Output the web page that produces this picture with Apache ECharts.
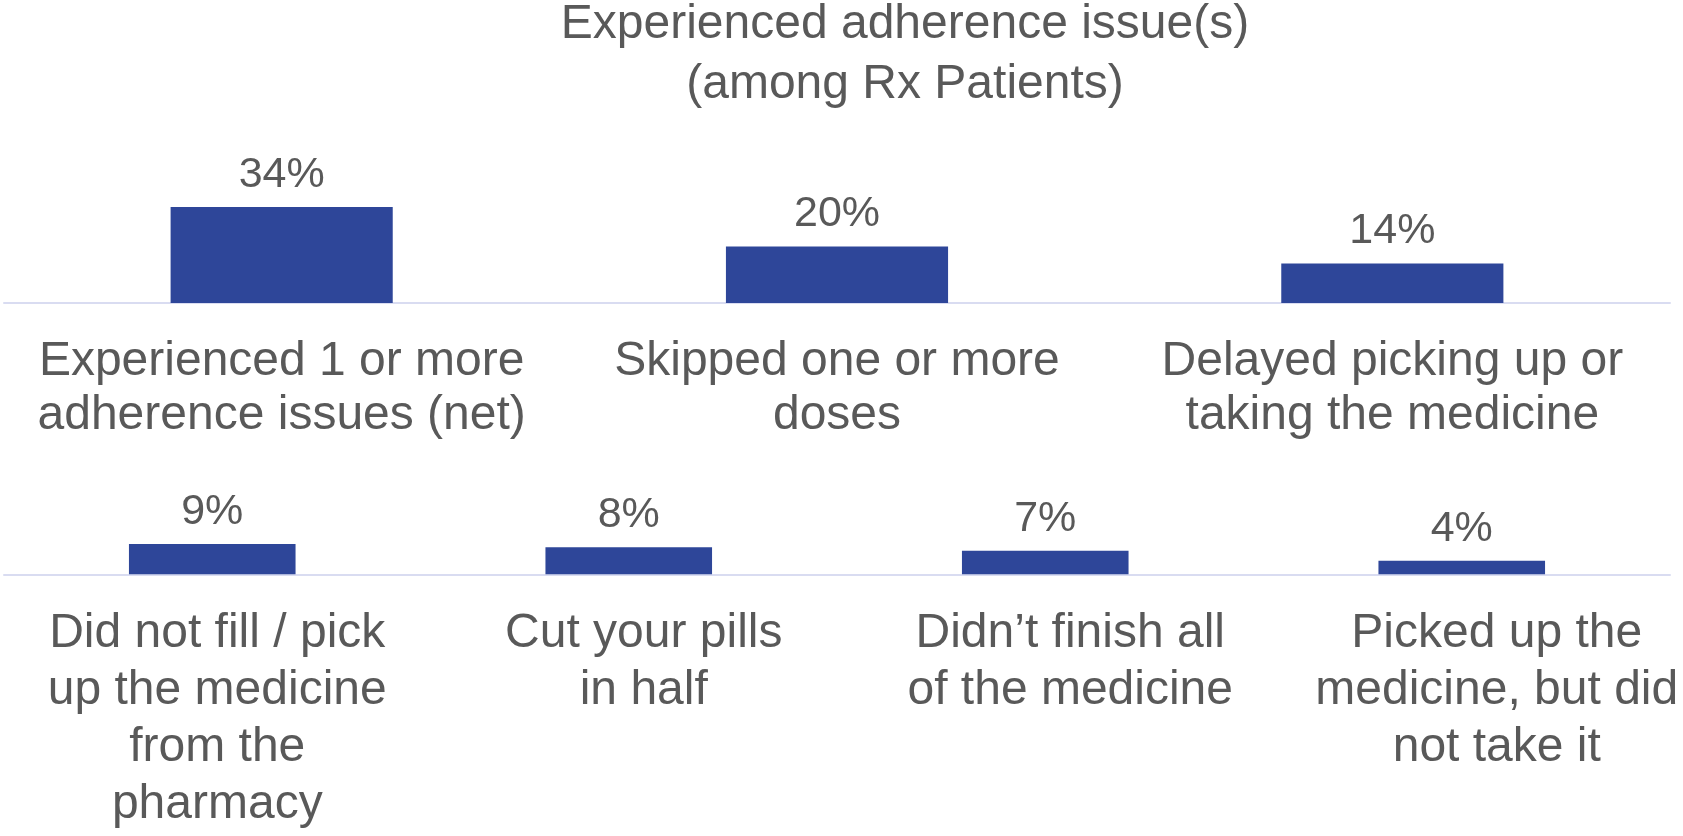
<!DOCTYPE html>
<html>
<head>
<meta charset="utf-8">
<title>Experienced adherence issue(s)</title>
<script src="https://cdn.jsdelivr.net/npm/echarts@6/dist/echarts.min.js"></script>
<style>
  html, body { margin: 0; padding: 0; background: #ffffff; }
  #chart { width: 1683px; height: 836px; }
</style>
</head>
<body>
<div id="chart"></div>
<script>
// Row 1: headline measures
const topCategories = [
  'Experienced 1 or more\nadherence issues (net)',
  'Skipped one or more\ndoses',
  'Delayed picking up or\ntaking the medicine'
];
const topValues = [34, 20, 14];

// Row 2: individual behaviours
const bottomCategories = [
  'Did not fill / pick\nup the medicine\nfrom the\npharmacy',
  'Cut your pills\nin half',
  'Didn\u2019t finish all\nof the medicine',
  'Picked up the\nmedicine, but did\nnot take it'
];
const bottomValues = [9, 8, 7, 4];

const titleLines = ['Experienced adherence issue(s)', '(among Rx Patients)'];

const FONT = "'Liberation Sans', Arial, Helvetica, sans-serif";
const TEXT = '#595959';
const BAR = '#2E4699';
const AXIS = '#D9DCF1';

const chart = echarts.init(document.getElementById('chart'), null, { renderer: 'canvas' });

const valueLabel = {
  show: true,
  position: 'top',
  distance: 7,
  formatter: '{c}%',
  color: TEXT,
  fontFamily: FONT,
  fontSize: 43,
  lineHeight: 50
};

chart.setOption({
  animation: false,
  backgroundColor: '#ffffff',
  title: {
    text: titleLines.join('\n'),
    left: 905,
    top: -5,
    padding: 0,
    textAlign: 'center',
    textStyle: {
      color: TEXT,
      fontFamily: FONT,
      fontSize: 48,
      fontWeight: 'normal',
      lineHeight: 60
    }
  },
  grid: [
    { left: 4, right: 13, top: 190, bottom: 533, outerBoundsMode: 'none', containLabel: false },
    { left: 4, right: 13, top: 540.6, bottom: 261.7, outerBoundsMode: 'none', containLabel: false },
    // wider band that carries the second row's category labels
    { left: 4, right: -27, top: 540.6, bottom: 261.7, outerBoundsMode: 'none', containLabel: false }
  ],
  xAxis: [
    {
      gridIndex: 0, type: 'category', data: topCategories,
      axisLine: { show: true, lineStyle: { color: AXIS, width: 2 } },
      axisTick: { show: false },
      axisLabel: {
        interval: 0, margin: 32, color: TEXT, fontFamily: FONT,
        fontSize: 48, lineHeight: 54
      }
    },
    {
      gridIndex: 1, type: 'category', data: bottomCategories,
      axisLine: { show: true, lineStyle: { color: AXIS, width: 2 } },
      axisTick: { show: false },
      axisLabel: { show: false }
    },
    {
      gridIndex: 2, type: 'category', data: bottomCategories,
      axisLine: { show: false },
      axisTick: { show: false },
      axisLabel: {
        interval: 0, margin: 31, color: TEXT, fontFamily: FONT,
        fontSize: 48, lineHeight: 57
      }
    }
  ],
  yAxis: [
    { gridIndex: 0, type: 'value', min: 0, max: 40, show: false, splitLine: { show: false } },
    { gridIndex: 1, type: 'value', min: 0, max: 10, show: false, splitLine: { show: false } },
    { gridIndex: 2, type: 'value', min: 0, max: 10, show: false, splitLine: { show: false } }
  ],
  series: [
    {
      type: 'bar', xAxisIndex: 0, yAxisIndex: 0, data: topValues,
      barWidth: '40%', itemStyle: { color: BAR }, label: valueLabel
    },
    {
      type: 'bar', xAxisIndex: 1, yAxisIndex: 1, data: bottomValues,
      barWidth: '40%', itemStyle: { color: BAR }, label: valueLabel
    }
  ]
});
</script>
</body>
</html>
